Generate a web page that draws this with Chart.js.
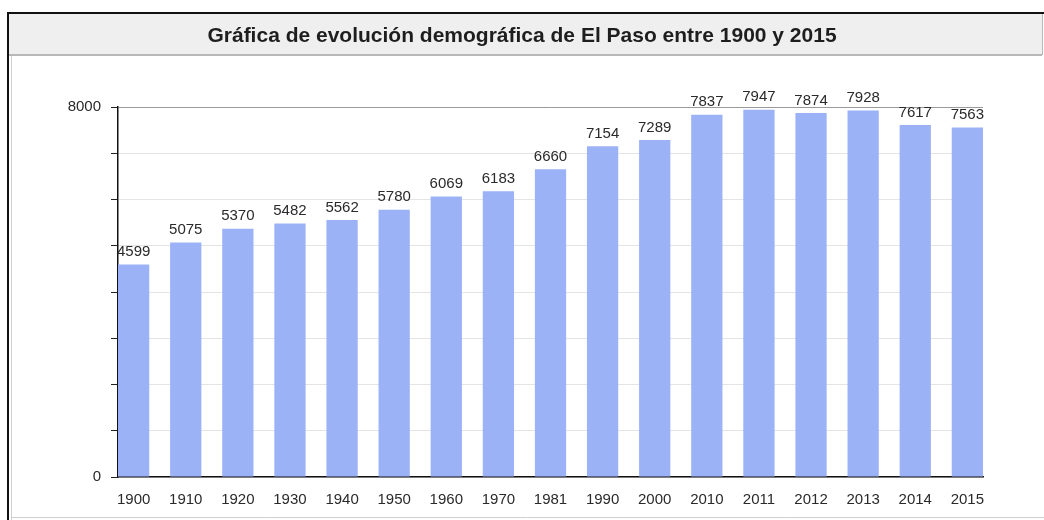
<!DOCTYPE html>
<html>
<head>
<meta charset="utf-8">
<script src="https://cdn.jsdelivr.net/npm/chart.js@4/dist/chart.umd.min.js"></script>
<style>
  html, body { margin: 0; padding: 0; background: #fff; }
  #wrap { width: 1044px; height: 520px; position: relative; }
</style>
</head>
<body>
<div id="wrap"><canvas id="chart" width="1044" height="520"></canvas></div>
<script>
// population of El Paso per year
const years = ['1900', '1910', '1920', '1930', '1940', '1950', '1960', '1970', '1981',
  '1990', '2000', '2010', '2011', '2012', '2013', '2014', '2015'];
const population = [4599, 5075, 5370, 5482, 5562, 5780, 6069, 6183, 6660,
  7154, 7289, 7837, 7947, 7874, 7928, 7617, 7563];
const yLabels = [0, 8000];

const titleText = 'Gráfica de evolución demográfica de El Paso entre 1900 y 2015';
const barColor = '#9cb2f6';

// outer frame + grey title band
const framePlugin = {
  id: 'frame',
  beforeDraw(chart) {
    const ctx = chart.ctx;
    const w = chart.width;
    ctx.save();
    ctx.fillStyle = '#efefef';
    ctx.fillRect(9, 14, w - 11, 41);
    ctx.strokeStyle = '#b8b8b8';
    ctx.lineWidth = 2;
    ctx.beginPath();
    ctx.moveTo(9, 55);
    ctx.lineTo(w - 2, 55);
    ctx.stroke();
    ctx.lineWidth = 1;
    ctx.beginPath();
    ctx.moveTo(w - 1.5, 14);
    ctx.lineTo(w - 1.5, 55);
    ctx.stroke();
    ctx.strokeStyle = '#cfcfcf';
    ctx.beginPath();
    ctx.moveTo(11.5, 56);
    ctx.lineTo(11.5, 520);
    ctx.moveTo(11, 517.5);
    ctx.lineTo(w, 517.5);
    ctx.stroke();
    ctx.strokeStyle = '#111';
    ctx.lineWidth = 2;
    ctx.beginPath();
    ctx.moveTo(8, 520);
    ctx.lineTo(8, 13);
    ctx.lineTo(w, 13);
    ctx.stroke();
    ctx.restore();
  }
};

// value labels above each bar
const valueLabels = {
  id: 'valueLabels',
  afterDatasetsDraw(chart) {
    const ctx = chart.ctx;
    const meta = chart.getDatasetMeta(0);
    ctx.save();
    ctx.font = '15px "Liberation Sans", Arial, sans-serif';
    ctx.fillStyle = '#2a2a2a';
    ctx.textAlign = 'center';
    ctx.textBaseline = 'bottom';
    meta.data.forEach((bar, i) => {
      ctx.fillText(String(population[i]), bar.x, bar.y - 5);
    });
    ctx.restore();
  }
};

const ctx = document.getElementById('chart').getContext('2d');
new Chart(ctx, {
  type: 'bar',
  data: {
    datasets: [{
      data: population.map((v, i) => ({ x: i, y: v })),
      backgroundColor: barColor,
      borderWidth: 0,
      barPercentage: 0.6,
      categoryPercentage: 1
    }]
  },
  options: {
    responsive: false,
    animation: false,
    events: [],
    layout: { padding: { top: 14, right: 0, left: 0, bottom: 0 } },
    plugins: {
      legend: { display: false },
      tooltip: { enabled: false },
      title: {
        display: true,
        text: titleText,
        color: '#1e1e1e',
        font: { family: '"Liberation Sans", Arial, sans-serif', size: 21, weight: 'bold' },
        padding: { top: 10, bottom: 58 }
      }
    },
    scales: {
      x: {
        type: 'linear',
        min: -0.3,
        max: 16.3,
        offset: false,
        grid: { display: false },
        border: { display: true, color: '#111', width: 1.5 },
        ticks: {
          stepSize: 1,
          includeBounds: false,
          autoSkip: false,
          maxRotation: 0,
          padding: 6,
          color: '#2a2a2a',
          font: { family: '"Liberation Sans", Arial, sans-serif', size: 15 },
          callback: v => (Number.isInteger(v) ? years[v] : '')
        },
        afterFit(s) { s.height = 43; }
      },
      y: {
        min: 0,
        max: 8000,
        grid: {
          color: c => (c.tick && c.tick.value === 8000 ? '#9a9a9a' : '#e4e4e4'),
          tickColor: '#222',
          tickLength: 7,
          drawTicks: true
        },
        border: { display: true, color: '#111', width: 1.5 },
        ticks: {
          stepSize: 1000,
          padding: 10,
          color: '#2a2a2a',
          font: { family: '"Liberation Sans", Arial, sans-serif', size: 15 },
          callback: v => (yLabels.includes(v) ? String(v) : '')
        },
        afterFit(s) { s.width = 118; }
      },
      // empty right-hand margin so the title stays centred on the page
      yRight: {
        position: 'right',
        min: 0,
        max: 1,
        grid: { display: false, drawTicks: false },
        border: { display: false },
        ticks: { display: false },
        afterFit(s) { s.width = 61; }
      }
    }
  },
  plugins: [framePlugin, valueLabels]
});
</script>
</body>
</html>
